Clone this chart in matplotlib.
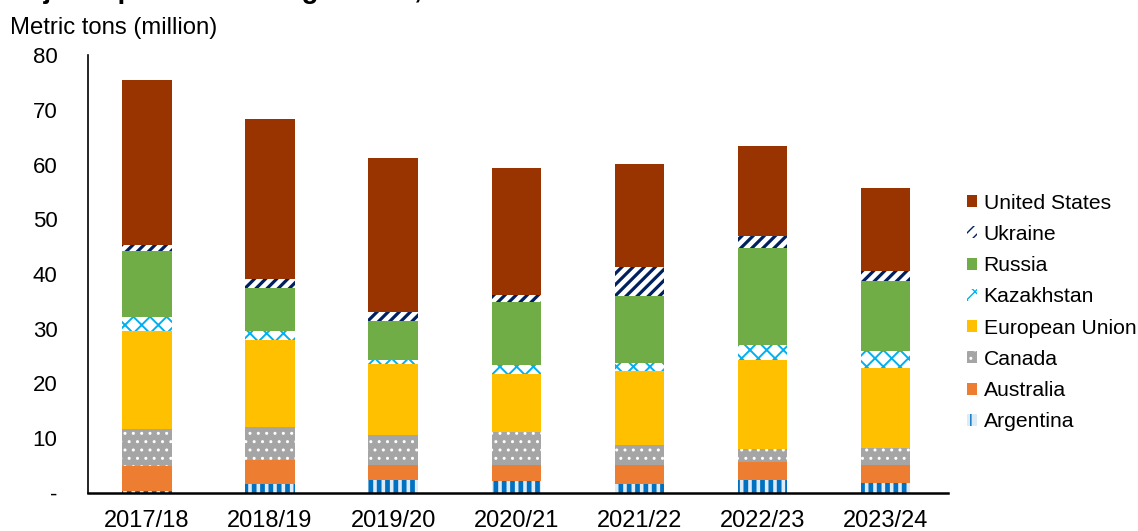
import matplotlib
matplotlib.use("Agg")
import matplotlib.pyplot as plt
import numpy as np

plt.rcParams['font.family'] = ['Liberation Sans', 'DejaVu Sans']

years = ["2017/18", "2018/19", "2019/20", "2020/21", "2021/22", "2022/23", "2023/24"]

# stacked bottom -> top
argentina = [0.35, 1.6, 2.3, 2.1, 1.7, 2.4, 1.8]
australia = [4.55, 4.5, 2.75, 3.1, 3.5, 3.2, 3.4]
canada = [6.7, 6.0, 5.45, 5.9, 3.6, 2.4, 3.1]
eu = [18.0, 15.8, 13.1, 10.7, 13.4, 16.2, 14.6]
kazakhstan = [2.5, 1.7, 0.6, 1.6, 1.5, 2.8, 3.0]
russia = [12.1, 7.8, 7.3, 11.4, 12.2, 17.7, 12.9]
ukraine = [1.15, 1.6, 1.5, 1.4, 5.3, 2.2, 1.7]
us = [30.05, 29.4, 28.1, 23.1, 18.9, 16.4, 15.2]

series = [
    ("Argentina", argentina, dict(facecolor="#DDEBF7", edgecolor="#0070C0", hatch="||"), 3.4),
    ("Australia", australia, dict(facecolor="#ED7D31", edgecolor="none"), None),
    ("Canada", canada, dict(facecolor="#A5A5A5", edgecolor="white", hatch=".."), 1.0),
    ("European Union", eu, dict(facecolor="#FFC000", edgecolor="none"), None),
    ("Kazakhstan", kazakhstan, dict(facecolor="white", edgecolor="#00B0F0", hatch="xx"), 1.4),
    ("Russia", russia, dict(facecolor="#70AD47", edgecolor="none"), None),
    ("Ukraine", ukraine, dict(facecolor="white", edgecolor="#002060", hatch="///"), 2.3),
    ("United States", us, dict(facecolor="#993300", edgecolor="none"), None),
]

fig = plt.figure(figsize=(11.38, 5.31), dpi=100)
ax = fig.add_axes([0.0773, 0.0716, 0.7557, 0.8248])

x = np.arange(len(years))
bottom = np.zeros(len(years))
for name, vals, style, hlw in series:
    if hlw is not None:
        with plt.rc_context({'hatch.linewidth': hlw}):
            bars = ax.bar(x, vals, 0.4, bottom=bottom, label=name, linewidth=0, **style)
        for b in bars:
            if hasattr(b, 'set_hatch_linewidth'):
                b.set_hatch_linewidth(hlw)
    else:
        ax.bar(x, vals, 0.4, bottom=bottom, label=name, linewidth=0, **style)
    bottom += np.array(vals)

ax.set_xlim(-0.48, 6.51)
ax.set_ylim(0, 80)
ax.set_yticks(range(0, 81, 10))
ax.set_yticklabels(["-"] + [str(v) for v in range(10, 81, 10)])
ax.set_xticks(x)
ax.set_xticklabels(years)
ax.tick_params(axis='y', length=0, pad=22, labelsize=16)
ax.tick_params(axis='x', length=0, pad=12, labelsize=17)
for s in ["top", "right"]:
    ax.spines[s].set_visible(False)
ax.spines["left"].set_linewidth(1.2)
ax.spines["bottom"].set_linewidth(1.8)

handles, labels = ax.get_legend_handles_labels()
ax.legend(handles[::-1], labels[::-1], loc="center left", bbox_to_anchor=(1.012, 0.412),
          frameon=False, fontsize=15.2, handlelength=0.5, handleheight=0.5,
          handletextpad=0.3, labelspacing=0.58, borderaxespad=0)

fig.text(10 / 1138, 1 - 17 / 531, "Metric tons (million)", fontsize=17.2, va="top", ha="left")
# title sits mostly above the top edge, as in the source image
fig.text(5 / 1138, 1 + 2.5 / 531, "Major exporters' ending stocks, 2017/18\u20132023/24",
         fontsize=20, fontweight="bold", va="baseline", ha="left")

fig.savefig("out.png", dpi=100)
